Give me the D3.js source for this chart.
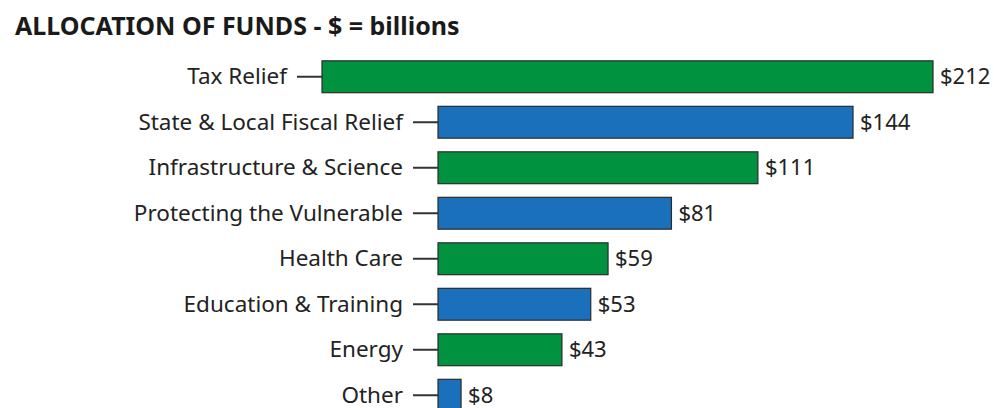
<!DOCTYPE html>
<html>
<head>
<meta charset="utf-8">
<script src="https://cdn.jsdelivr.net/npm/d3@7"></script>
<style>
  body { margin: 0; background: #fff; }
  svg { display: block; }
</style>
</head>
<body>
<svg id="chart"></svg>
<script>
// Chart data (billions of dollars)
const categories = ["Tax Relief", "State & Local Fiscal Relief", "Infrastructure & Science",
  "Protecting the Vulnerable", "Health Care", "Education & Training", "Energy", "Other"];
const amounts = [212, 144, 111, 81, 59, 53, 43, 8];
const barColors = ["#00923f", "#1b70bb", "#00923f", "#1b70bb", "#00923f", "#1b70bb", "#00923f", "#1b70bb"];

const width = 994, height = 408;
const svg = d3.select("#chart")
    .attr("width", width)
    .attr("height", height);

// Title
svg.append("text")
    .attr("x", 15)
    .attr("y", 35)
    .attr("font-family", "Noto Sans")
    .attr("font-weight", "bold")
    .attr("font-size", 25)
    .attr("fill", "#1a1a1a")
    .text("ALLOCATION OF FUNDS - $ = billions");

// Plot area starts where the bars begin
const plotLeft = 438, plotTop = 54;

const x = d3.scaleLinear()
    .domain([0, 212])
    .range([0, 611]);

const y = d3.scaleBand()
    .domain(categories)
    .range([0, 8 * 45.5])
    .paddingInner(0.3)
    .paddingOuter(0.15);

const g = svg.append("g")
    .attr("transform", `translate(${plotLeft},${plotTop})`);

// First row sits shifted left in the picture
const rowShift = d => d === "Tax Relief" ? -116 : 0;

const rows = g.selectAll("g.row")
    .data(categories)
    .join("g")
    .attr("class", "row")
    .attr("transform", d => `translate(${rowShift(d)},${y(d)})`);

// Bars
rows.append("rect")
    .attr("x", 0)
    .attr("y", 0)
    .attr("width", (d, i) => x(amounts[i]))
    .attr("height", y.bandwidth())
    .attr("fill", (d, i) => barColors[i])
    .attr("stroke", "#2b2b2b")
    .attr("stroke-width", 1.2);

// Tick marks
rows.append("line")
    .attr("x1", -25)
    .attr("x2", 0)
    .attr("y1", y.bandwidth() / 2)
    .attr("y2", y.bandwidth() / 2)
    .attr("stroke", "#333")
    .attr("stroke-width", 2);

// Category labels
rows.append("text")
    .attr("x", -35)
    .attr("y", y.bandwidth() / 2)
    .attr("dy", "0.33em")
    .attr("text-anchor", "end")
    .attr("font-family", "Noto Sans")
    .attr("font-size", 22.5)
    .attr("fill", "#222")
    .text(d => d);

// Value labels
rows.append("text")
    .attr("x", (d, i) => x(amounts[i]) + 7)
    .attr("y", y.bandwidth() / 2)
    .attr("dy", "0.33em")
    .attr("font-family", "Noto Sans")
    .attr("font-size", 22)
    .attr("fill", "#222")
    .text((d, i) => "$" + amounts[i]);
</script>
</body>
</html>
